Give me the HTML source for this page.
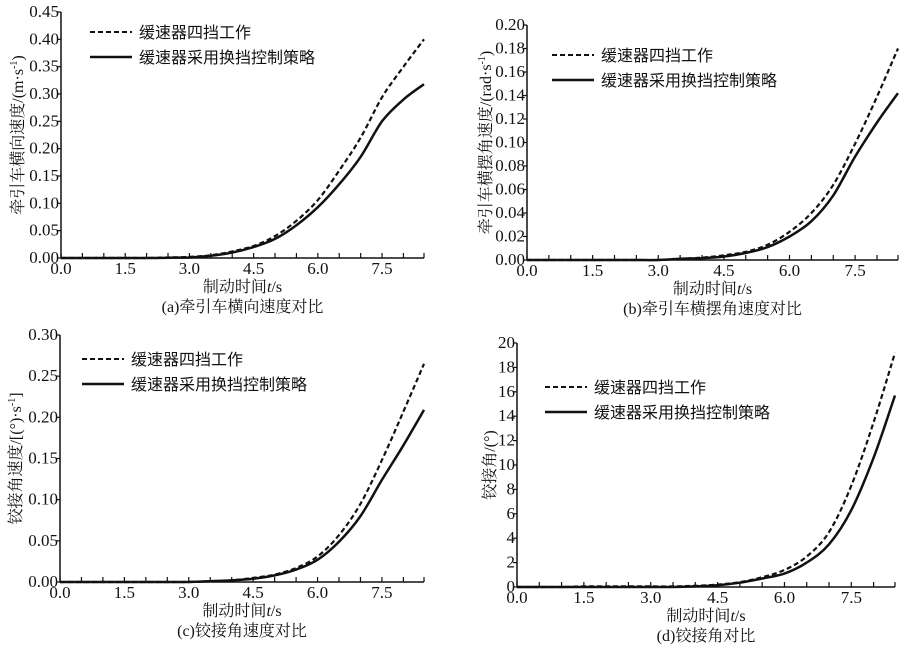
<!DOCTYPE html>
<html><head><meta charset="utf-8">
<style>
body{margin:0;background:#fff;width:900px;height:651px;overflow:hidden}
svg{display:block}
text{fill:#111}
.tk{font-family:"Liberation Serif",serif;font-size:17px}
.cj{font-family:"Liberation Serif","Noto Serif CJK SC","Noto Sans CJK SC",serif;font-size:16px}
.lg{font-family:"Noto Sans CJK SC","WenQuanYi Zen Hei",sans-serif;font-size:16px}
</style></head>
<body>
<svg id="fig" width="900" height="651" viewBox="0 0 900 651"></svg>
<script>
const times = [0,0.5,1,1.5,2,2.5,3,3.5,4,4.5,5,5.5,6,6.5,7,7.5,8,8.48];
const xTicks = ["0.0","1.5","3.0","4.5","6.0","7.5"];
const aDashed = [0,0,0,0,0,0.001,0.002,0.005,0.012,0.022,0.04,0.068,0.106,0.16,0.22,0.294,0.35,0.40];
const aSolid  = [0,0,0,0,0,0.0005,0.001,0.004,0.01,0.02,0.035,0.06,0.093,0.135,0.185,0.25,0.29,0.318];
const aTicks = ["0.00","0.05","0.10","0.15","0.20","0.25","0.30","0.35","0.40","0.45"];
const bDashed = [0,0,0,0,0,0,0,0.001,0.002,0.004,0.007,0.013,0.024,0.040,0.064,0.099,0.139,0.18];
const bSolid  = [0,0,0,0,0,0,0,0.001,0.0015,0.003,0.006,0.011,0.020,0.033,0.055,0.088,0.117,0.142];
const bTicks = ["0.00","0.02","0.04","0.06","0.08","0.10","0.12","0.14","0.16","0.18","0.20"];
const cDashed = [0,0,0,0,0,0,0,0.001,0.002,0.005,0.009,0.017,0.031,0.057,0.095,0.148,0.207,0.265];
const cSolid  = [0,0,0,0,0,0,0,0.001,0.002,0.004,0.008,0.015,0.027,0.049,0.080,0.124,0.166,0.209];
const cTicks = ["0.00","0.05","0.10","0.15","0.20","0.25","0.30"];
const dDashed = [0,0,0,0.05,0.05,0.05,0.05,0.05,0.1,0.2,0.4,0.8,1.4,2.5,4.5,8.3,13.5,19.2];
const dSolid  = [0,0,0,0,0,0,0,0,0.05,0.15,0.35,0.7,1.1,2.0,3.5,6.3,10.6,15.7];
const dTicks = ["0","2","4","6","8","10","12","14","16","18","20"];

const NS="http://www.w3.org/2000/svg";
const svg=document.getElementById('fig');
function mk(tag,attrs,parent,txt){const e=document.createElementNS(NS,tag);for(const k in attrs)e.setAttribute(k,attrs[k]);if(txt!==undefined)e.textContent=txt;parent.appendChild(e);return e;}
function smooth(pts){
  let d='M'+pts[0][0].toFixed(1)+' '+pts[0][1].toFixed(1);
  for(let i=0;i<pts.length-1;i++){
    const p0=pts[Math.max(0,i-1)],p1=pts[i],p2=pts[i+1],p3=pts[Math.min(pts.length-1,i+2)];
    const c1=[p1[0]+(p2[0]-p0[0])/6,p1[1]+(p2[1]-p0[1])/6];
    const c2=[p2[0]-(p3[0]-p1[0])/6,p2[1]-(p3[1]-p1[1])/6];
    d+=`C${c1[0].toFixed(1)} ${c1[1].toFixed(1)} ${c2[0].toFixed(1)} ${c2[1].toFixed(1)} ${p2[0].toFixed(1)} ${p2[1].toFixed(1)}`;
  }
  return d;
}

const panels=[
 {id:'a',x0:61,x1:424,y0:258,yTop:12,ymax:0.45,ticks:aTicks,ds:aDashed,ss:aSolid,lx:90,ly:32,ytx:18,ytitle:'牵引车横向速度/(m·s',cap:'(a)牵引车横向速度对比'},
 {id:'b',x0:527,x1:898,y0:260,yTop:25,ymax:0.20,ticks:bTicks,ds:bDashed,ss:bSolid,lx:552,ly:55,ytx:486,ytitle:'牵引车横摆角速度/(rad·s',cap:'(b)牵引车横摆角速度对比'},
 {id:'c',x0:60,x1:424,y0:582,yTop:335,ymax:0.30,ticks:cTicks,ds:cDashed,ss:cSolid,lx:82,ly:359,ytx:16,ytitle:'铰接角速度/[(°)·s',cap:'(c)铰接角速度对比'},
 {id:'d',x0:517,x1:895,y0:587,yTop:343,ymax:20,ticks:dTicks,ds:dDashed,ss:dSolid,lx:545,ly:387,ytx:490,ytitle:'铰接角/(°)',cap:'(d)铰接角对比'}
];
const XMAX=8.48;
panels.forEach(p=>{
  const g=mk('g',{},svg);
  
  
  const sx=t=>p.x0+(t/XMAX)*(p.x1-p.x0);
  const sy=v=>p.y0-(v/p.ymax)*(p.y0-p.yTop);
  const ax=mk('path',{d:`M${p.x0} ${p.yTop}V${p.y0}H${p.x1}`,stroke:'#111','stroke-width':1.5,fill:'none'},g);
  
  
  for(let t=0;t<=8.5;t+=0.5){const x=sx(Math.min(t,XMAX));mk('line',{x1:x,x2:x,y1:p.y0,y2:p.y0-5,stroke:'#111','stroke-width':1.2},g);}
  xTicks.forEach(s=>{const x=sx(parseFloat(s));const t=mk('text',{x:x,y:p.y0+16,'text-anchor':'middle',class:'tk'},g,s);
    
    });
  p.ticks.forEach(s=>{const y=sy(parseFloat(s));mk('line',{x1:p.x0-4,x2:p.x0,y1:y,y2:y,stroke:'#111','stroke-width':1.2},g);
    const t=mk('text',{x:p.x0-2,y:y+5,'text-anchor':'end',class:'tk'},g,s);
    
    });
  const line=(arr,dash,w,name)=>{const pts=arr.map((v,i)=>[sx(times[i]),sy(v)]);
    const e=mk('path',{d:smooth(pts),stroke:'#111','stroke-width':w,fill:'none','stroke-linejoin':'round','stroke-dasharray':dash},g);
    
    };
  line(p.ss,'none',2.5,'series-shift-strategy');
  line(p.ds,'5,3',2.2,'series-fourth-gear');
  const lg=mk('g',{},g);
  
  
  mk('line',{x1:p.lx,x2:p.lx+42,y1:p.ly,y2:p.ly,stroke:'#111','stroke-width':2,'stroke-dasharray':'5,3'},lg);
  mk('text',{x:p.lx+49,y:p.ly+6,class:'lg'},lg,'缓速器四挡工作');
  mk('line',{x1:p.lx,x2:p.lx+42,y1:p.ly+25,y2:p.ly+25,stroke:'#111','stroke-width':2.6},lg);
  mk('text',{x:p.lx+49,y:p.ly+31,class:'lg'},lg,'缓速器采用换挡控制策略');
  const cx=(p.x0+p.x1)/2;
  const xt=mk('text',{x:cx,y:p.y0+34,'text-anchor':'middle',class:'cj'},g);
  
  
  mk('tspan',{},xt,'制动时间');mk('tspan',{'font-style':'italic'},xt,'t');mk('tspan',{},xt,'/s');
  const cy=(p.y0+p.yTop)/2;
  const yt=mk('text',{x:p.ytx,y:cy,'text-anchor':'middle',class:'cj',transform:`rotate(-90 ${p.ytx} ${cy})`,dy:'5'},g);
  
  
  mk('tspan',{},yt,p.ytitle);
  if(p.id!=='d'){mk('tspan',{dy:-6,'font-size':'10'},yt,'-1');mk('tspan',{dy:6},yt,p.id==='c'?']':')');}
  const cp=mk('text',{x:cx,y:p.y0+54,'text-anchor':'middle',class:'cj'},g,p.cap);
  
  
});
</script>
</body></html>
